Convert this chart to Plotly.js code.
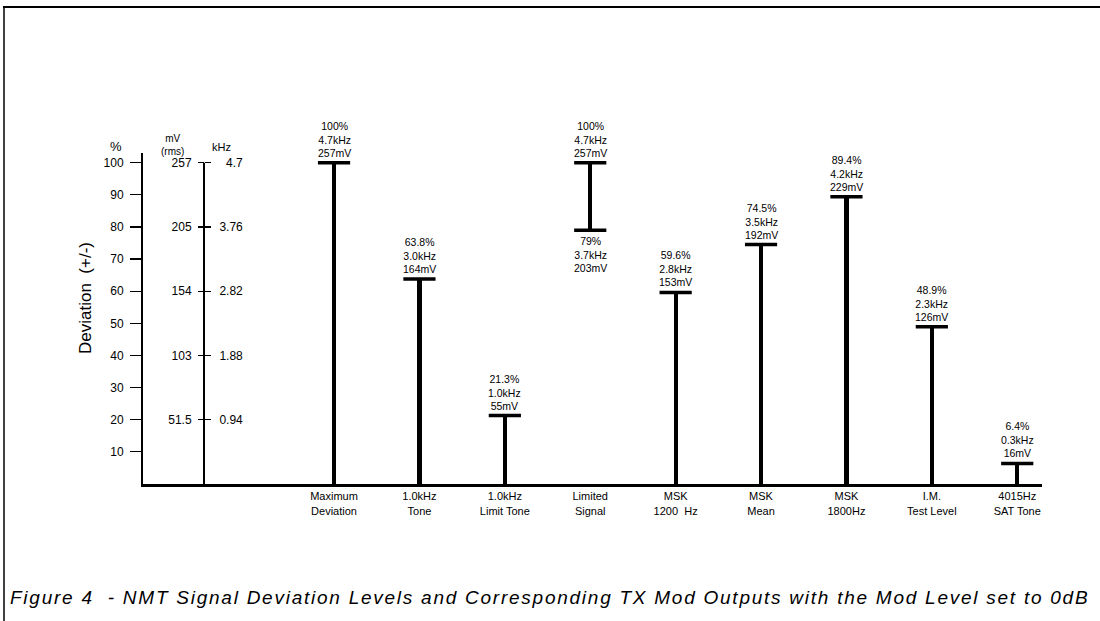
<!DOCTYPE html>
<html>
<head>
<meta charset="utf-8">
<script src="https://cdn.plot.ly/plotly-3.0.1.min.js"></script>
<style>
html,body{margin:0;padding:0;background:#fff;}
#chart{width:1100px;height:621px;}
#chart .gtitle{letter-spacing:1.75px;}
</style>
</head>
<body>
<div id="chart"></div>
<script>
// ---- data ----
const categories = ['Maximum<br>Deviation', '1.0kHz<br>Tone', '1.0kHz<br>Limit Tone', 'Limited<br>Signal',
  'MSK<br>1200  Hz', 'MSK<br>Mean', 'MSK<br>1800Hz', 'I.M.<br>Test Level', '4015Hz<br>SAT Tone'];
const deviationPct = [100, 63.8, 21.3, 100, 59.6, 74.5, 89.4, 48.9, 6.4];
const baseLevel = [0, 0, 0, 79, 0, 0, 0, 0, 0];
const pctLabels = ['100%', '63.8%', '21.3%', '100%', '59.6%', '74.5%', '89.4%', '48.9%', '6.4%'];
const khzLabels = ['4.7kHz', '3.0kHz', '1.0kHz', '4.7kHz', '2.8kHz', '3.5kHz', '4.2kHz', '2.3kHz', '0.3kHz'];
const mvLabels = ['257mV', '164mV', '55mV', '257mV', '153mV', '192mV', '229mV', '126mV', '16mV'];
const lowPctLabels = ['', '', '', '79%', '', '', '', '', ''];
const lowKhzLabels = ['', '', '', '3.7kHz', '', '', '', '', ''];
const lowMvLabels = ['', '', '', '203mV', '', '', '', '', ''];
const pctTicks = [10, 20, 30, 40, 50, 60, 70, 80, 90, 100];
const scaleTicks = [20, 40, 60, 80, 100];
const mvTickText = ['51.5', '103', '154', '205', '257'];
const khzTickText = ['0.94', '1.88', '2.82', '3.76', '\u20074.7'];
const captionText = 'Figure 4  - NMT Signal Deviation Levels and Corresponding TX Mod Outputs with the Mod Level set to 0dB';
const yTitleText = 'Deviation\u00a0\u00a0(+/-)';

// ---- traces ----
const FONT = 'Liberation Sans, Arial, Helvetica, sans-serif';
const stems = {
  type: 'bar', x: categories,
  y: deviationPct.map((v, i) => v - baseLevel[i]),
  base: baseLevel, width: 0.05,
  marker: {color: '#000', line: {width: 0}},
  hoverinfo: 'skip', showlegend: false
};
const capX = [], capY = [];
categories.forEach((c, i) => {
  capX.push(c); capY.push(deviationPct[i]);
  if (baseLevel[i] > 0) { capX.push(c); capY.push(baseLevel[i]); }
});
const caps = {
  type: 'scatter', mode: 'markers', x: capX, y: capY,
  marker: {symbol: 'line-ew', size: 23, color: '#000', line: {color: '#000', width: 3.5}},
  hoverinfo: 'skip', showlegend: false, cliponaxis: false
};
const dummy2 = {type: 'scatter', x: [], y: [], yaxis: 'y2', showlegend: false};
const dummy3 = {type: 'scatter', x: [], y: [], yaxis: 'y3', showlegend: false};

// ---- annotations ----
const annots = [];
const lblFont = {family: FONT, size: 10.5, color: '#000'};
categories.forEach((c, i) => {
  annots.push({x: c, y: deviationPct[i], xref: 'x', yref: 'y',
    text: [pctLabels[i], khzLabels[i], mvLabels[i]].join('<br>'), showarrow: false,
    xanchor: 'center', yanchor: 'bottom', yshift: 3, borderpad: 0, font: lblFont});
  if (baseLevel[i] > 0) {
    annots.push({x: c, y: baseLevel[i], xref: 'x', yref: 'y',
      text: [lowPctLabels[i], lowKhzLabels[i], lowMvLabels[i]].join('<br>'), showarrow: false,
      xanchor: 'center', yanchor: 'top', yshift: -4, borderpad: 0, font: lblFont});
  }
});
// column headers
function hdr(px, py, text, size) {
  annots.push({xref: 'paper', yref: 'paper', x: (px - 143) / 899, y: (484 - py) / 331, text: text,
    showarrow: false, xanchor: 'center', yanchor: 'middle', borderpad: 0, font: {family: FONT, size: size, color: '#000'}});
}
hdr(116, 146, '%', 13);
hdr(172, 145, 'mV<br>(rms)', 10);
hdr(221, 147, 'kHz', 11);
// y title
annots.push({xref: 'paper', yref: 'paper', x: (85 - 143) / 899, y: (484 - 298) / 331, text: yTitleText, textangle: -90,
  showarrow: false, xanchor: 'center', yanchor: 'middle', font: {family: FONT, size: 17, color: '#000'}});

const secondAxisPos = (204 - 143) / 899;
const tickFont = {family: FONT, size: 12, color: '#000'};

const layout = {
  width: 1100, height: 621,
  margin: {l: 143, r: 58, t: 153, b: 137, pad: 0},
  paper_bgcolor: '#fff', plot_bgcolor: '#fff',
  showlegend: false, bargap: 0,
  font: {family: FONT, color: '#000'},
  title: {text: captionText, xref: 'container', yref: 'container', x: 10 / 1100, xanchor: 'left',
    y: 1 - 597 / 621, yanchor: 'middle', font: {family: FONT, size: 19, style: 'italic', color: '#000'}},
  xaxis: {
    type: 'category', range: [-2.237, 8.29], showgrid: false, zeroline: false,
    showline: true, linecolor: '#000', linewidth: 3, ticks: '',
    tickfont: {family: FONT, size: 11, color: '#000'}, ticklabelstandoff: 0, fixedrange: true
  },
  yaxis: {
    range: [0, 103], showgrid: false, zeroline: false, showline: true, linecolor: '#000', linewidth: 2,
    ticks: 'outside', ticklen: 11, tickwidth: 1.2, tickcolor: '#000', tickvals: pctTicks,
    tickfont: tickFont, ticklabelstandoff: 4, fixedrange: true
  },
  yaxis2: {
    overlaying: 'y', anchor: 'free', position: secondAxisPos, side: 'left', range: [0, 103],
    showgrid: false, zeroline: false, showline: false, ticks: 'outside', ticklen: 6, tickwidth: 1.2,
    tickcolor: '#000', tickvals: scaleTicks, ticktext: mvTickText,
    tickfont: tickFont, ticklabelstandoff: 4, fixedrange: true
  },
  yaxis3: {
    overlaying: 'y', anchor: 'free', position: secondAxisPos, side: 'right', range: [0, 103],
    showgrid: false, zeroline: false, showline: false, ticks: 'outside', ticklen: 6, tickwidth: 1.2,
    tickcolor: '#000', tickvals: scaleTicks, ticktext: khzTickText,
    tickfont: tickFont, ticklabelstandoff: 6, fixedrange: true
  },
  shapes: [
    {type: 'line', xref: 'paper', yref: 'y', x0: secondAxisPos, x1: secondAxisPos, y0: 0, y1: 100,
      line: {color: '#000', width: 2}},
    // page frame (top and left edges)
    {type: 'line', xref: 'paper', yref: 'paper', x0: (3 - 143) / 899, x1: (1100 - 143) / 899,
      y0: (484 - 7) / 331, y1: (484 - 7) / 331, line: {color: '#000', width: 2}},
    {type: 'line', xref: 'paper', yref: 'paper', x0: (4 - 143) / 899, x1: (4 - 143) / 899,
      y0: (484 - 7) / 331, y1: (484 - 621) / 331, line: {color: '#000', width: 1.5}}
  ],
  annotations: annots
};

Plotly.newPlot('chart', [stems, caps, dummy2, dummy3], layout, {staticPlot: true, displayModeBar: false});
</script>
</body>
</html>
